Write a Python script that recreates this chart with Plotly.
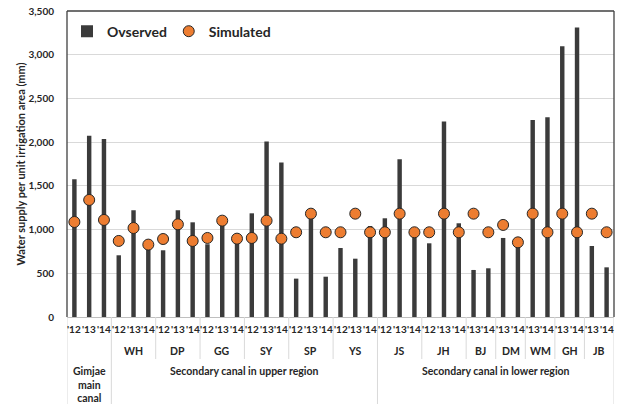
import plotly.graph_objects as go

# Canal groups, the years observed in each, and the region each belongs to
groups = ["Gimjae", "WH", "DP", "GG", "SY", "SP", "YS", "JS", "JH", "BJ", "DM", "WM", "GH", "JB"]
group_labels = ["", "WH", "DP", "GG", "SY", "SP", "YS", "JS", "JH", "BJ", "DM", "WM", "GH", "JB"]
group_years = [
    ["'12", "'13", "'14"], ["'12", "'13", "'14"], ["'12", "'13", "'14"],
    ["'12", "'13", "'14"], ["'12", "'13", "'14"], ["'12", "'13", "'14"],
    ["'12", "'13", "'14"], ["'12", "'13", "'14"], ["'12", "'13", "'14"],
    ["'13", "'14"], ["'13", "'14"], ["'13", "'14"], ["'13", "'14"], ["'13", "'14"],
]
regions = ["Gimjae<br>main<br>canal", "Secondary canal in upper region", "Secondary canal in lower region"]
region_group_counts = [1, 6, 7]

# Water supply per unit irrigation area (mm)
observed = [1575, 2074, 2037, 706, 1221, 790, 763, 1221, 1083, 832, 1090, 880,
            1186, 2006, 1766, 439, 1167, 461, 789, 667, 1041, 1129, 1804, 960,
            843, 2235, 1072, 538, 557, 904, 816, 2254, 2285, 3097, 3310, 812, 568]
simulated = [1087, 1339, 1110, 870, 1018, 828, 892, 1060, 870, 904, 1102, 896,
             904, 1102, 896, 969, 1182, 969, 969, 1182, 969, 969, 1182, 969,
             969, 1182, 969, 1182, 969, 1053, 854, 1182, 969, 1182, 969, 1182, 969]
y_ticks = [0, 500, 1000, 1500, 2000, 2500, 3000, 3500]

# Unique category names (group + year)
categories = [f"{g} {y}" for g, ys in zip(groups, group_years) for y in ys]
year_of_cat = [y for ys in group_years for y in ys]

FONT = "Lato"
TXT = "#262626"
PLOT_H = 404 - 11 - 87

fig = go.Figure()
fig.add_trace(go.Bar(
    x=categories, y=observed, name="<b>Ovserved</b>", legend="legend",
    marker=dict(color="#3b3b3b", line=dict(width=0)), width=0.3,
))
fig.add_trace(go.Scatter(
    x=categories, y=simulated, name="<b>Simulated</b>", mode="markers", legend="legend2",
    marker=dict(color="#ed7d31", size=11, line=dict(color="#262626", width=1)),
))

annotations = []
shapes = []

# year labels under each bar
for cat, yr in zip(categories, year_of_cat):
    annotations.append(dict(x=cat, xref="x", y=0, yref="paper", yshift=-12,
                            yanchor="middle", text=yr, showarrow=False,
                            font=dict(family=FONT, size=10, color=TXT)))

# group labels and separators
start = 0
boundaries = [0]
for lab, ys in zip(group_labels, group_years):
    n = len(ys)
    center = start + (n - 1) / 2
    if lab:
        annotations.append(dict(x=center, xref="x", y=0, yref="paper", yshift=-34,
                                yanchor="middle", text=lab, showarrow=False,
                                font=dict(family=FONT, size=10.5, color=TXT)))
    start += n
    boundaries.append(start)

region_bounds = [0]
gi = 0
for cnt in region_group_counts:
    gi += cnt
    region_bounds.append(boundaries[gi])

for b in boundaries:
    full = b in region_bounds
    shapes.append(dict(type="line", xref="x", yref="paper",
                       x0=b - 0.5, x1=b - 0.5, y0=0, y1=-(87 if full else 42) / PLOT_H,
                       line=dict(color="#d9d9d9", width=1)))

# region labels
for i, lab in enumerate(regions):
    a, b = region_bounds[i], region_bounds[i + 1]
    center = (a + b - 1) / 2
    annotations.append(dict(x=center, xref="x", y=0, yref="paper", yshift=-46,
                            yanchor="top", text=lab, showarrow=False,
                            font=dict(family=FONT, size=10.5, color=TXT)))

# frame on left, top and right
for x0, x1, y0, y1 in [(0, 0, 0, 1), (0, 1, 1, 1), (1, 1, 0, 1)]:
    shapes.append(dict(type="line", xref="paper", yref="paper",
                       x0=x0, x1=x1, y0=y0, y1=y1,
                       line=dict(color="#404040", width=1.3)))

legend_style = dict(orientation="h", y=0.985, xanchor="left", yanchor="top",
                    font=dict(family=FONT, size=14, color=TXT),
                    bgcolor="rgba(0,0,0,0)", itemwidth=30)

fig.update_layout(
    width=617, height=404,
    margin=dict(l=67, r=3, t=11, b=87),
    paper_bgcolor="white", plot_bgcolor="white",
    font=dict(family=FONT, color=TXT),
    showlegend=True,
    legend=dict(x=0.0, **legend_style),
    legend2=dict(x=0.186, **legend_style),
    annotations=annotations,
    shapes=shapes,
    xaxis=dict(type="category", categoryorder="array", categoryarray=categories,
               showticklabels=False, ticks="", showgrid=False,
               showline=True, linecolor="#bfbfbf", linewidth=1,
               range=[-0.5, len(categories) - 0.5], zeroline=False),
    yaxis=dict(range=[0, 3500], tickvals=y_ticks,
               ticktext=[f"<b>{v:,}</b>" for v in y_ticks],
               showgrid=True, gridcolor="#d9d9d9", gridwidth=1,
               zeroline=False, showline=False, ticks="",
               tickfont=dict(family=FONT, size=10, color=TXT),
               ticklabelstandoff=12,
               title=dict(text="<b>Water supply per unit irrigation area (mm)</b>",
                          font=dict(family=FONT, size=11, color=TXT),
                          standoff=0)),
)
fig.update_annotations(font_weight="bold")

fig.write_html("out.html")
